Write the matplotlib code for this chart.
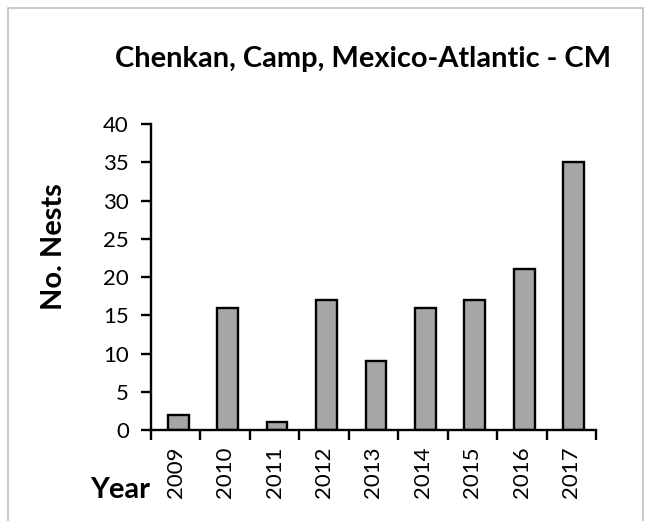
import numpy as np
import matplotlib
matplotlib.use('Agg')
import matplotlib.pyplot as plt
from matplotlib.patches import Rectangle

years = ['2009', '2010', '2011', '2012', '2013', '2014', '2015', '2016', '2017']
nests = [2, 16, 1, 17, 9, 16, 17, 21, 35]

plt.rcParams['font.family'] = ['Lato', 'DejaVu Sans']

W, H = 648, 521
fig = plt.figure(figsize=(W / 100, H / 100), dpi=100)

# light frame like the excel chart area
fig.patches.append(Rectangle((8 / W, -0.05), 635 / W, 1 - 8 / H + 0.05,
                             transform=fig.transFigure, fill=False,
                             edgecolor='#C0C0C0', linewidth=1.2))

ax = fig.add_axes([151 / W, 1 - 430 / H, (596 - 151) / W, (430 - 124) / H])
x = np.arange(len(years))
ax.bar(x + 0.05, nests, width=0.42, color='#A6A6A6', edgecolor='black', linewidth=1.7)

ax.set_xlim(-0.5, len(years) - 0.5)
ax.set_ylim(0, 40)
ax.set_yticks(np.arange(0, 41, 5))
ax.set_xticks(x)
ax.set_xticklabels(years, rotation=90, fontsize=16)
ax.set_xticks(np.arange(-0.5, len(years)), minor=True)
ax.tick_params(axis='x', which='major', length=0, pad=12)
ax.tick_params(axis='x', which='minor', length=7, width=1.7, direction='out')
ax.tick_params(axis='y', length=7, width=1.7, direction='out', labelsize=16, pad=9)

for s in ['top', 'right']:
    ax.spines[s].set_visible(False)
for s in ['left', 'bottom']:
    ax.spines[s].set_linewidth(1.7)

title = fig.text(363 / W, 1 - 67 / H, 'Chenkan, Camp, Mexico-Atlantic - CM',
                 ha='center', va='baseline', fontsize=20, fontweight='bold')
# fit the title width to the reference (~497 px)
r = fig.canvas.get_renderer()
fs = 20 * 497 / title.get_window_extent(r).width
title.set_fontsize(fs)

fig.text(54 / W, 1 - 247 / H, 'No. Nests', ha='center', va='center',
         rotation=90, fontsize=fs, fontweight='bold')
fig.text(120 / W, 1 - 490 / H, 'Year', ha='center', va='center',
         fontsize=fs, fontweight='bold')

plt.savefig('out.png', dpi=100)
